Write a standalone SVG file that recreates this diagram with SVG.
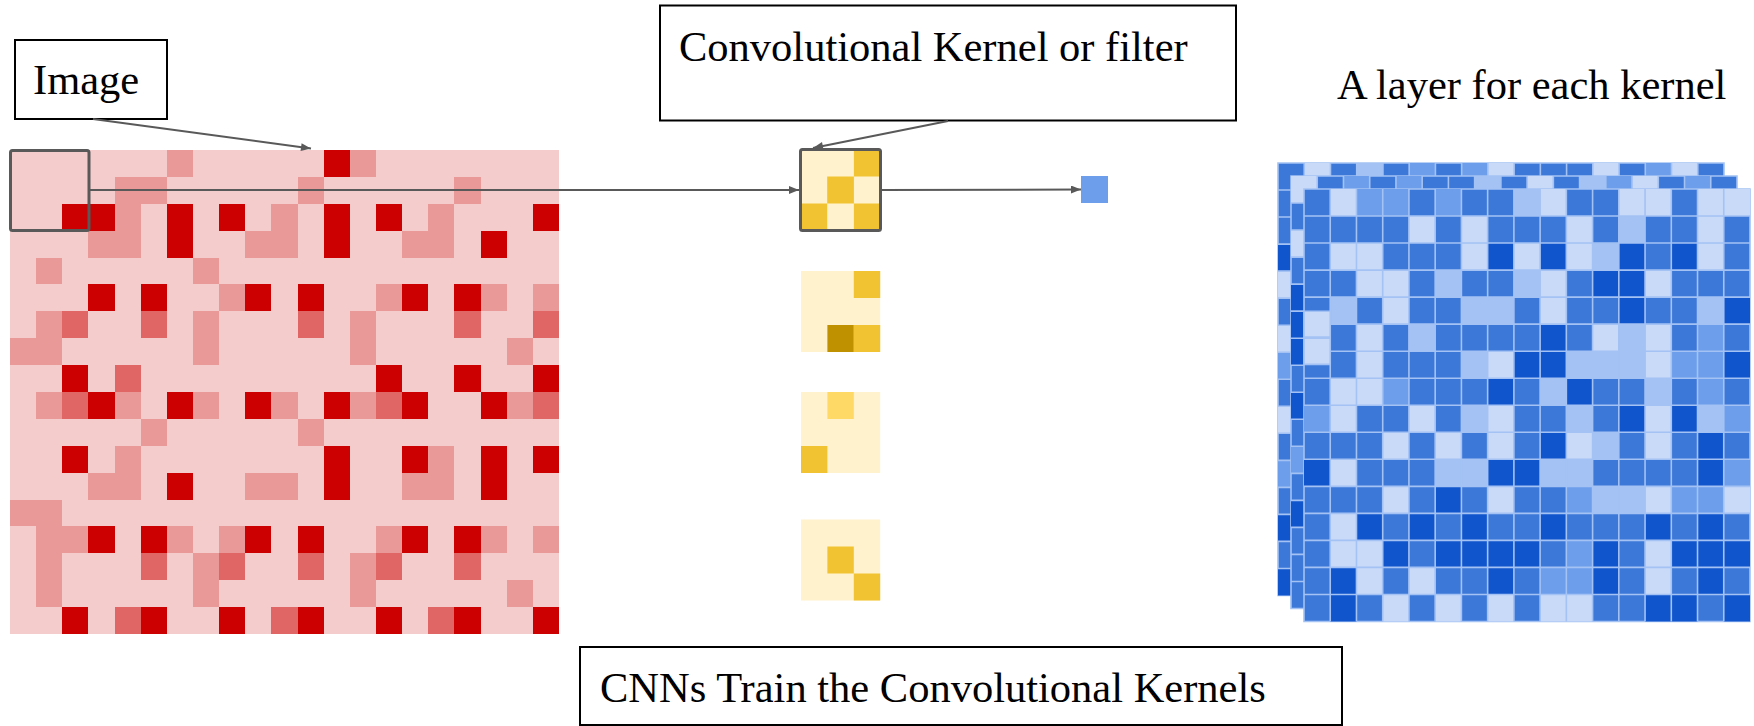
<svg xmlns="http://www.w3.org/2000/svg" xmlns:xlink="http://www.w3.org/1999/xlink" width="1754" height="726" viewBox="0 0 1754 726">
<style>
.lbl{font-family:"Liberation Serif","Times New Roman",serif;font-size:42.5px;fill:#000}
.box{fill:#fff;stroke:#000;stroke-width:2}
.conn{fill:none;stroke:#595959;stroke-width:2}
.sel{fill:none;stroke:#595959;stroke-width:3}
.red{shape-rendering:crispEdges}
.pl{fill:#f4cccc}.pm{fill:#ea9999}.pd{fill:#e06666}.pR{fill:#cc0000}
.kL{fill:#fff2cc}.kY{fill:#f1c232}.kK{fill:#bf9000}.kM{fill:#ffd966}
.D{fill:#1155cc}.d{fill:#3c78d8}.m{fill:#6d9eeb}.l{fill:#a4c2f4}.L{fill:#c9daf8}
.base{fill:#3c78d8;stroke:#a4c2f4;stroke-width:1.6;vector-effect:non-scaling-stroke}
.gl{fill:none;stroke:#a4c2f4;stroke-width:1.6;vector-effect:non-scaling-stroke}
.ov{stroke:#a4c2f4;stroke-width:1.6;vector-effect:non-scaling-stroke}
</style>
<defs>
<marker id="ah" viewBox="0 0 10 8" refX="10" refY="4" markerWidth="11" markerHeight="8" markerUnits="userSpaceOnUse" orient="auto">
<path d="M0 0L10 4L0 8z" fill="#595959"/>
</marker>
<path id="bgrid" class="gl" d="M1 0V16M2 0V16M3 0V16M4 0V16M5 0V16M6 0V16M7 0V16M8 0V16M9 0V16M10 0V16M11 0V16M12 0V16M13 0V16M14 0V16M15 0V16M16 0V16M0 1H17M0 2H17M0 3H17M0 4H17M0 5H17M0 6H17M0 7H17M0 8H17M0 9H17M0 10H17M0 11H17M0 12H17M0 13H17M0 14H17M0 15H17"/>
</defs>

<g id="image-grid" class="red" transform="translate(10 150) scale(26.14 26.89)">
<rect class="pl" x="0" y="0" width="21" height="18"/>
<rect class="pm" x="6" y="0" width="1" height="1"/><rect class="pR" x="12" y="0" width="1" height="1"/><rect class="pm" x="13" y="0" width="1" height="1"/>
<rect class="pm" x="4" y="1" width="2" height="1"/><rect class="pm" x="11" y="1" width="1" height="1"/><rect class="pm" x="17" y="1" width="1" height="1"/>
<rect class="pR" x="2" y="2" width="2" height="1"/><rect class="pm" x="4" y="2" width="1" height="1"/><rect class="pR" x="6" y="2" width="1" height="1"/><rect class="pR" x="8" y="2" width="1" height="1"/><rect class="pm" x="10" y="2" width="1" height="1"/><rect class="pR" x="12" y="2" width="1" height="1"/><rect class="pR" x="14" y="2" width="1" height="1"/><rect class="pm" x="16" y="2" width="1" height="1"/><rect class="pR" x="20" y="2" width="1" height="1"/>
<rect class="pm" x="3" y="3" width="2" height="1"/><rect class="pR" x="6" y="3" width="1" height="1"/><rect class="pm" x="9" y="3" width="2" height="1"/><rect class="pR" x="12" y="3" width="1" height="1"/><rect class="pm" x="15" y="3" width="2" height="1"/><rect class="pR" x="18" y="3" width="1" height="1"/>
<rect class="pm" x="1" y="4" width="1" height="1"/><rect class="pm" x="7" y="4" width="1" height="1"/>
<rect class="pR" x="3" y="5" width="1" height="1"/><rect class="pR" x="5" y="5" width="1" height="1"/><rect class="pm" x="8" y="5" width="1" height="1"/><rect class="pR" x="9" y="5" width="1" height="1"/><rect class="pR" x="11" y="5" width="1" height="1"/><rect class="pm" x="14" y="5" width="1" height="1"/><rect class="pR" x="15" y="5" width="1" height="1"/><rect class="pR" x="17" y="5" width="1" height="1"/><rect class="pm" x="18" y="5" width="1" height="1"/><rect class="pm" x="20" y="5" width="1" height="1"/>
<rect class="pm" x="1" y="6" width="1" height="1"/><rect class="pd" x="2" y="6" width="1" height="1"/><rect class="pd" x="5" y="6" width="1" height="1"/><rect class="pm" x="7" y="6" width="1" height="1"/><rect class="pd" x="11" y="6" width="1" height="1"/><rect class="pm" x="13" y="6" width="1" height="1"/><rect class="pd" x="17" y="6" width="1" height="1"/><rect class="pd" x="20" y="6" width="1" height="1"/>
<rect class="pm" x="0" y="7" width="2" height="1"/><rect class="pm" x="7" y="7" width="1" height="1"/><rect class="pm" x="13" y="7" width="1" height="1"/><rect class="pm" x="19" y="7" width="1" height="1"/>
<rect class="pR" x="2" y="8" width="1" height="1"/><rect class="pd" x="4" y="8" width="1" height="1"/><rect class="pR" x="14" y="8" width="1" height="1"/><rect class="pR" x="17" y="8" width="1" height="1"/><rect class="pR" x="20" y="8" width="1" height="1"/>
<rect class="pm" x="1" y="9" width="1" height="1"/><rect class="pd" x="2" y="9" width="1" height="1"/><rect class="pR" x="3" y="9" width="1" height="1"/><rect class="pm" x="4" y="9" width="1" height="1"/><rect class="pR" x="6" y="9" width="1" height="1"/><rect class="pm" x="7" y="9" width="1" height="1"/><rect class="pR" x="9" y="9" width="1" height="1"/><rect class="pm" x="10" y="9" width="1" height="1"/><rect class="pR" x="12" y="9" width="1" height="1"/><rect class="pm" x="13" y="9" width="1" height="1"/><rect class="pd" x="14" y="9" width="1" height="1"/><rect class="pR" x="15" y="9" width="1" height="1"/><rect class="pR" x="18" y="9" width="1" height="1"/><rect class="pm" x="19" y="9" width="1" height="1"/><rect class="pd" x="20" y="9" width="1" height="1"/>
<rect class="pm" x="5" y="10" width="1" height="1"/><rect class="pm" x="11" y="10" width="1" height="1"/>
<rect class="pR" x="2" y="11" width="1" height="1"/><rect class="pm" x="4" y="11" width="1" height="1"/><rect class="pR" x="12" y="11" width="1" height="1"/><rect class="pR" x="15" y="11" width="1" height="1"/><rect class="pm" x="16" y="11" width="1" height="1"/><rect class="pR" x="18" y="11" width="1" height="1"/><rect class="pR" x="20" y="11" width="1" height="1"/>
<rect class="pm" x="3" y="12" width="2" height="1"/><rect class="pR" x="6" y="12" width="1" height="1"/><rect class="pm" x="9" y="12" width="2" height="1"/><rect class="pR" x="12" y="12" width="1" height="1"/><rect class="pm" x="15" y="12" width="2" height="1"/><rect class="pR" x="18" y="12" width="1" height="1"/>
<rect class="pm" x="0" y="13" width="2" height="1"/>
<rect class="pm" x="1" y="14" width="2" height="1"/><rect class="pR" x="3" y="14" width="1" height="1"/><rect class="pR" x="5" y="14" width="1" height="1"/><rect class="pm" x="6" y="14" width="1" height="1"/><rect class="pm" x="8" y="14" width="1" height="1"/><rect class="pR" x="9" y="14" width="1" height="1"/><rect class="pR" x="11" y="14" width="1" height="1"/><rect class="pm" x="14" y="14" width="1" height="1"/><rect class="pR" x="15" y="14" width="1" height="1"/><rect class="pR" x="17" y="14" width="1" height="1"/><rect class="pm" x="18" y="14" width="1" height="1"/><rect class="pm" x="20" y="14" width="1" height="1"/>
<rect class="pm" x="1" y="15" width="1" height="1"/><rect class="pd" x="5" y="15" width="1" height="1"/><rect class="pm" x="7" y="15" width="1" height="1"/><rect class="pd" x="8" y="15" width="1" height="1"/><rect class="pd" x="11" y="15" width="1" height="1"/><rect class="pm" x="13" y="15" width="1" height="1"/><rect class="pd" x="14" y="15" width="1" height="1"/><rect class="pd" x="17" y="15" width="1" height="1"/>
<rect class="pm" x="1" y="16" width="1" height="1"/><rect class="pm" x="7" y="16" width="1" height="1"/><rect class="pm" x="13" y="16" width="1" height="1"/><rect class="pm" x="19" y="16" width="1" height="1"/>
<rect class="pR" x="2" y="17" width="1" height="1"/><rect class="pd" x="4" y="17" width="1" height="1"/><rect class="pR" x="5" y="17" width="1" height="1"/><rect class="pR" x="8" y="17" width="1" height="1"/><rect class="pd" x="10" y="17" width="1" height="1"/><rect class="pR" x="11" y="17" width="1" height="1"/><rect class="pR" x="14" y="17" width="1" height="1"/><rect class="pd" x="16" y="17" width="1" height="1"/><rect class="pR" x="17" y="17" width="1" height="1"/><rect class="pR" x="20" y="17" width="1" height="1"/>
</g>
<rect id="image-window" class="sel" x="10.5" y="150.5" width="78.5" height="80" rx="2"/>

<g id="kernel-1">
<g transform="translate(800.5 149.5) scale(26.7 27)">
<rect class="kL" x="0" y="0" width="3" height="3"/>
<rect class="kY" x="2" y="0" width="1" height="1"/><rect class="kY" x="1" y="1" width="1" height="1"/><rect class="kY" x="0" y="2" width="1" height="1"/><rect class="kY" x="2" y="2" width="1" height="1"/>
</g>
<rect class="sel" x="800.5" y="149.5" width="80" height="81" rx="2"/>
</g>
<g id="kernel-2" transform="translate(801 271) scale(26.4 27)">
<rect class="kL" x="0" y="0" width="3" height="3"/>
<rect class="kY" x="2" y="0" width="1" height="1"/><rect class="kK" x="1" y="2" width="1" height="1"/><rect class="kY" x="2" y="2" width="1" height="1"/>
</g>
<g id="kernel-3" transform="translate(801 392) scale(26.4 27)">
<rect class="kL" x="0" y="0" width="3" height="3"/>
<rect class="kM" x="1" y="0" width="1" height="1"/><rect class="kY" x="0" y="2" width="1" height="1"/>
</g>
<g id="kernel-4" transform="translate(801 519.5) scale(26.4 27)">
<rect class="kL" x="0" y="0" width="3" height="3"/>
<rect class="kY" x="1" y="1" width="1" height="1"/><rect class="kY" x="2" y="2" width="1" height="1"/>
</g>

<rect id="output-cell" x="1081" y="176" width="27" height="27" fill="#6d9eeb"/>

<g id="feature-maps">
<g id="layer-back" transform="translate(1278 163) scale(26.235 27.03)">
<rect class="base" x="0" y="0" width="17" height="16"/>
<rect class="L" x="1" y="0" width="1" height="1"/><rect class="l" x="3" y="0" width="1" height="1"/><rect class="m" x="5" y="0" width="1" height="1"/><rect class="m" x="7" y="0" width="1" height="1"/><rect class="L" x="8" y="0" width="1" height="1"/><rect class="L" x="12" y="0" width="1" height="1"/><rect class="m" x="14" y="0" width="1" height="1"/><rect class="L" x="15" y="0" width="1" height="1"/>
<rect class="D" x="0" y="3" width="1" height="1"/><rect class="L" x="0" y="4" width="1" height="1"/><rect class="L" x="0" y="6" width="1" height="1"/><rect class="m" x="0" y="7" width="1" height="1"/><rect class="L" x="0" y="9" width="1" height="1"/><rect class="m" x="0" y="11" width="1" height="1"/><rect class="D" x="0" y="13" width="1" height="1"/><rect class="D" x="0" y="15" width="1" height="1"/>
<use xlink:href="#bgrid"/>
</g>
<g id="layer-middle" transform="translate(1291 176) scale(26.235 27.03)">
<rect class="base" x="0" y="0" width="17" height="16"/>
<rect class="L" x="0" y="0" width="1" height="1"/><rect class="m" x="2" y="0" width="1" height="1"/><rect class="m" x="4" y="0" width="1" height="1"/><rect class="l" x="7" y="0" width="1" height="1"/><rect class="L" x="9" y="0" width="1" height="1"/><rect class="l" x="11" y="0" width="1" height="1"/><rect class="m" x="12" y="0" width="1" height="1"/><rect class="L" x="13" y="0" width="1" height="1"/><rect class="m" x="15" y="0" width="1" height="1"/>
<rect class="L" x="0" y="2" width="1" height="1"/><rect class="D" x="0" y="4" width="1" height="3"/><rect class="D" x="0" y="8" width="1" height="1"/><rect class="m" x="0" y="10" width="1" height="1"/><rect class="D" x="0" y="12" width="1" height="1"/>
<use xlink:href="#bgrid"/>
</g>
<g id="layer-front" transform="translate(1304 189) scale(26.235 27.03)">
<rect class="base" x="0" y="0" width="17" height="16"/>
<rect class="L" x="1" y="0" width="1" height="1"/><rect class="m" x="2" y="0" width="2" height="1"/><rect class="m" x="5" y="0" width="1" height="1"/><rect class="l" x="8" y="0" width="1" height="1"/><rect class="L" x="9" y="0" width="1" height="1"/><rect class="L" x="12" y="0" width="2" height="1"/><rect class="L" x="15" y="0" width="2" height="1"/>
<rect class="L" x="4" y="1" width="1" height="1"/><rect class="L" x="6" y="1" width="1" height="1"/><rect class="L" x="10" y="1" width="1" height="1"/><rect class="l" x="12" y="1" width="1" height="1"/><rect class="L" x="15" y="1" width="1" height="1"/>
<rect class="L" x="1" y="2" width="2" height="1"/><rect class="L" x="6" y="2" width="1" height="1"/><rect class="D" x="7" y="2" width="1" height="1"/><rect class="L" x="8" y="2" width="1" height="1"/><rect class="D" x="9" y="2" width="1" height="1"/><rect class="L" x="10" y="2" width="1" height="1"/><rect class="l" x="11" y="2" width="1" height="1"/><rect class="D" x="12" y="2" width="1" height="1"/><rect class="D" x="14" y="2" width="1" height="1"/><rect class="L" x="15" y="2" width="1" height="1"/>
<rect class="L" x="2" y="3" width="2" height="1"/><rect class="l" x="5" y="3" width="1" height="1"/><rect class="l" x="8" y="3" width="1" height="1"/><rect class="L" x="9" y="3" width="1" height="1"/><rect class="D" x="11" y="3" width="2" height="1"/><rect class="L" x="13" y="3" width="1" height="1"/>
<rect class="l" x="1" y="4" width="1" height="1"/><rect class="L" x="3" y="4" width="1" height="1"/><rect class="l" x="6" y="4" width="2" height="1"/><rect class="L" x="9" y="4" width="1" height="1"/><rect class="D" x="12" y="4" width="1" height="1"/><rect class="l" x="15" y="4" width="1" height="1"/><rect class="D" x="16" y="4" width="1" height="1"/>
<rect class="L" x="2" y="5" width="1" height="1"/><rect class="l" x="4" y="5" width="1" height="1"/><rect class="D" x="9" y="5" width="1" height="1"/><rect class="L" x="11" y="5" width="1" height="1"/><rect class="l" x="12" y="5" width="1" height="1"/><rect class="L" x="13" y="5" width="1" height="1"/><rect class="m" x="15" y="5" width="1" height="1"/>
<rect class="L" x="2" y="6" width="1" height="1"/><rect class="l" x="6" y="6" width="1" height="1"/><rect class="L" x="7" y="6" width="1" height="1"/><rect class="D" x="8" y="6" width="2" height="1"/><rect class="l" x="10" y="6" width="3" height="1"/><rect class="L" x="13" y="6" width="1" height="1"/><rect class="m" x="14" y="6" width="2" height="1"/><rect class="D" x="16" y="6" width="1" height="1"/>
<rect class="L" x="1" y="7" width="2" height="1"/><rect class="m" x="3" y="7" width="1" height="1"/><rect class="D" x="7" y="7" width="1" height="1"/><rect class="l" x="9" y="7" width="1" height="1"/><rect class="D" x="10" y="7" width="1" height="1"/><rect class="l" x="13" y="7" width="1" height="1"/><rect class="m" x="15" y="7" width="1" height="1"/>
<rect class="m" x="0" y="8" width="1" height="1"/><rect class="L" x="1" y="8" width="1" height="1"/><rect class="L" x="4" y="8" width="1" height="1"/><rect class="l" x="6" y="8" width="1" height="1"/><rect class="L" x="7" y="8" width="1" height="1"/><rect class="l" x="10" y="8" width="1" height="1"/><rect class="D" x="12" y="8" width="1" height="1"/><rect class="L" x="13" y="8" width="1" height="1"/><rect class="D" x="14" y="8" width="1" height="1"/><rect class="l" x="15" y="8" width="1" height="1"/><rect class="m" x="16" y="8" width="1" height="1"/>
<rect class="L" x="3" y="9" width="1" height="1"/><rect class="L" x="5" y="9" width="1" height="1"/><rect class="L" x="7" y="9" width="1" height="1"/><rect class="D" x="9" y="9" width="1" height="1"/><rect class="L" x="10" y="9" width="1" height="1"/><rect class="l" x="11" y="9" width="1" height="1"/><rect class="L" x="13" y="9" width="1" height="1"/><rect class="D" x="15" y="9" width="1" height="1"/>
<rect class="D" x="0" y="10" width="1" height="1"/><rect class="L" x="1" y="10" width="1" height="1"/><rect class="l" x="5" y="10" width="2" height="1"/><rect class="D" x="7" y="10" width="2" height="1"/><rect class="l" x="9" y="10" width="2" height="1"/><rect class="D" x="15" y="10" width="1" height="1"/><rect class="m" x="16" y="10" width="1" height="1"/>
<rect class="L" x="3" y="11" width="1" height="1"/><rect class="D" x="5" y="11" width="1" height="1"/><rect class="L" x="7" y="11" width="1" height="1"/><rect class="m" x="10" y="11" width="1" height="1"/><rect class="l" x="11" y="11" width="2" height="1"/><rect class="L" x="13" y="11" width="1" height="1"/><rect class="m" x="14" y="11" width="2" height="1"/><rect class="L" x="16" y="11" width="1" height="1"/>
<rect class="L" x="1" y="12" width="1" height="1"/><rect class="D" x="2" y="12" width="1" height="1"/><rect class="D" x="4" y="12" width="1" height="1"/><rect class="D" x="6" y="12" width="1" height="1"/><rect class="D" x="9" y="12" width="1" height="1"/><rect class="D" x="13" y="12" width="1" height="1"/><rect class="D" x="15" y="12" width="1" height="1"/>
<rect class="L" x="1" y="13" width="2" height="1"/><rect class="D" x="3" y="13" width="1" height="1"/><rect class="D" x="5" y="13" width="4" height="1"/><rect class="m" x="10" y="13" width="1" height="1"/><rect class="D" x="11" y="13" width="1" height="1"/><rect class="L" x="13" y="13" width="1" height="1"/><rect class="D" x="14" y="13" width="3" height="1"/>
<rect class="D" x="1" y="14" width="1" height="1"/><rect class="L" x="2" y="14" width="1" height="1"/><rect class="L" x="4" y="14" width="1" height="1"/><rect class="D" x="7" y="14" width="1" height="1"/><rect class="m" x="9" y="14" width="2" height="1"/><rect class="D" x="11" y="14" width="1" height="1"/><rect class="L" x="13" y="14" width="1" height="1"/><rect class="D" x="15" y="14" width="1" height="1"/>
<rect class="D" x="1" y="15" width="1" height="1"/><rect class="L" x="3" y="15" width="1" height="1"/><rect class="L" x="5" y="15" width="1" height="1"/><rect class="L" x="7" y="15" width="1" height="1"/><rect class="L" x="9" y="15" width="2" height="1"/><rect class="D" x="13" y="15" width="2" height="1"/><rect class="D" x="16" y="15" width="1" height="1"/>
<use xlink:href="#bgrid"/>
<rect class="L ov" x="0" y="4.52" width="1" height="0.96"/><rect class="L ov" x="0" y="5.52" width="1" height="0.97"/>
</g>
</g>

<g id="image-label"><rect class="box" x="15" y="40" width="152" height="79"/><text class="lbl" x="33" y="94">Image</text></g>
<g id="kernel-label"><rect class="box" x="660" y="5.5" width="576" height="115"/><text class="lbl" x="679" y="61">Convolutional Kernel or filter</text></g>
<g id="layer-label"><text class="lbl" x="1337" y="99">A layer for each kernel</text></g>
<g id="cnn-label"><rect class="box" x="580" y="647" width="762" height="78"/><text class="lbl" x="600" y="702">CNNs Train the Convolutional Kernels</text></g>

<g id="connectors">
<line class="conn" x1="93" y1="119" x2="311" y2="148.5" marker-end="url(#ah)"/>
<line class="conn" x1="948" y1="121" x2="813" y2="148" marker-end="url(#ah)"/>
<line class="conn" x1="89" y1="190" x2="799" y2="190" marker-end="url(#ah)"/>
<line class="conn" x1="881" y1="190" x2="1081" y2="189.5" marker-end="url(#ah)"/>
</g>
</svg>
